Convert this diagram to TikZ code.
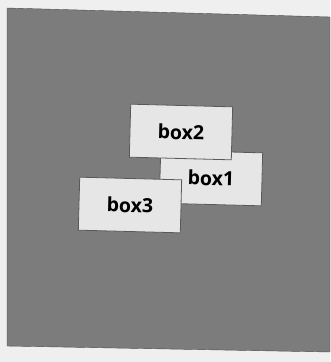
\documentclass[tikz,border=0pt]{standalone}
\usepackage{fontspec}
\setmainfont{Open Sans}
\definecolor{paper}{HTML}{EFEFEF}
\definecolor{screen}{HTML}{7C7C7C}
\definecolor{boxfill}{HTML}{E6E6E6}
\begin{document}
\begin{tikzpicture}[x=1pt,y=-1pt,
    boxnode/.style={draw=black!65,fill=boxfill,line width=0.8pt,minimum width=102pt,
      minimum height=53pt,rotate=-1.5,font=\fontsize{19.5}{22}\selectfont\bfseries}]
      \useasboundingbox (0,0) rectangle (330,362);
      \fill[paper] (0,0) rectangle (330,362);
      \draw[fill=screen,draw=black!70] (7,8) -- (330,17) -- (330,352) -- (7,346) -- cycle;

      \node[boxnode] (box1) at (211,178) {box1};
      \node[boxnode] (box2) at (181,132) {box2};
      \node[boxnode] (box3) at (130,205) {box3};
    \end{tikzpicture}
\end{document}
